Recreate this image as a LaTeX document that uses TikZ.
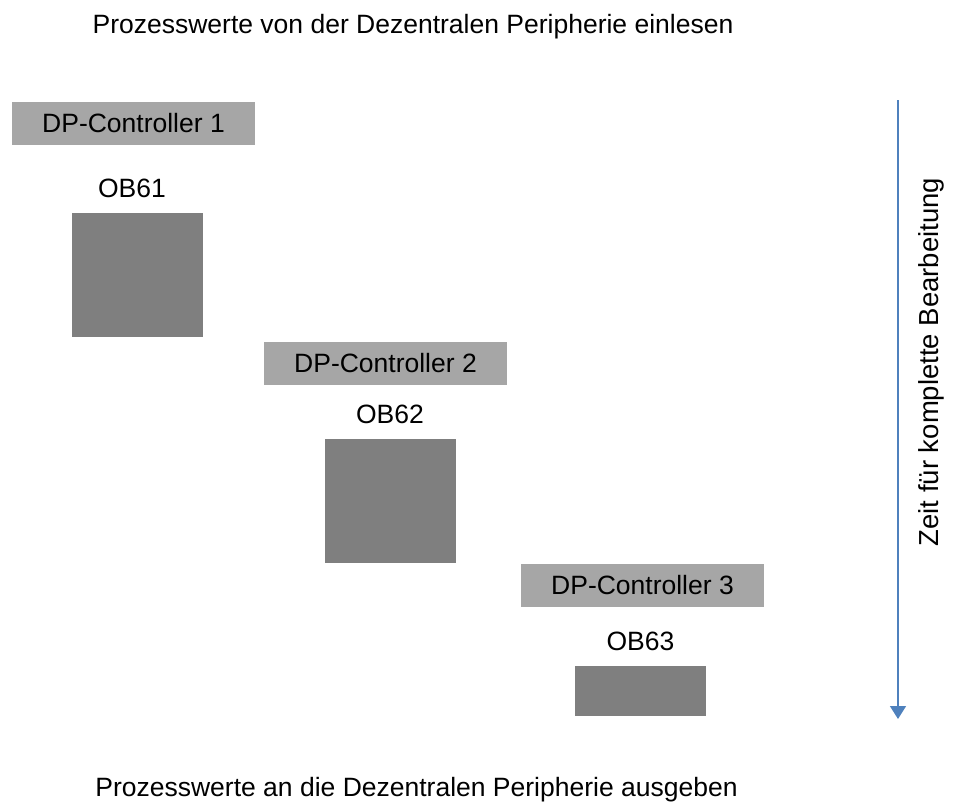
\documentclass[tikz,border=0pt]{standalone}
\usepackage{fontspec}
\setmainfont{Liberation Sans}
\usepackage{tikz}
\usetikzlibrary{arrows.meta}

\definecolor{ctrlgray}{HTML}{A6A6A6}
\definecolor{obgray}{HTML}{7F7F7F}
\definecolor{timeblue}{HTML}{4F81BD}

\begin{document}
\begin{tikzpicture}[x=1pt, y=-1pt,
        every node/.style={font=\fontsize{26.5}{30}\selectfont},
        ctrl/.style={fill=ctrlgray, minimum width=243pt, minimum height=43pt, inner sep=0pt},
        ob/.style={fill=obgray, minimum width=131pt, inner sep=0pt}]
        \useasboundingbox (0, 0) rectangle (953, 803);

        \node[anchor=base] (title) at (413, 33) {Prozesswerte von der Dezentralen Peripherie einlesen};
        \node[anchor=base] (footer) at (416.5, 796) {Prozesswerte an die Dezentralen Peripherie ausgeben};

        \node[ctrl] (ctrl1) at (133.5, 123.5) {DP-Controller 1};
        \node[anchor=base] (lab61) at (132, 197) {OB61};
        \node[ob, minimum height=124pt] (ob61) at (137.5, 275) {};

        \node[ctrl] (ctrl2) at (385.5, 363.5) {DP-Controller 2};
        \node[anchor=base] (lab62) at (390, 423) {OB62};
        \node[ob, minimum height=124pt] (ob62) at (390.5, 501) {};

        \node[ctrl] (ctrl3) at (642.5, 585.5) {DP-Controller 3};
        \node[anchor=base] (lab63) at (640.5, 650) {OB63};
        \node[ob, minimum height=50pt] (ob63) at (640.5, 691) {};

        \coordinate (tstart) at (898, 100);
        \coordinate (tend) at (898, 719);
        \draw[timeblue, line width=1.5pt, -{Triangle[width=16pt, length=13pt]}] (tstart) -- (tend);
        \node[rotate=90, font=\fontsize{27.5}{31}\selectfont] (zeit) at (931, 362) {Zeit für komplette Bearbeitung};
    \end{tikzpicture}
\end{document}
